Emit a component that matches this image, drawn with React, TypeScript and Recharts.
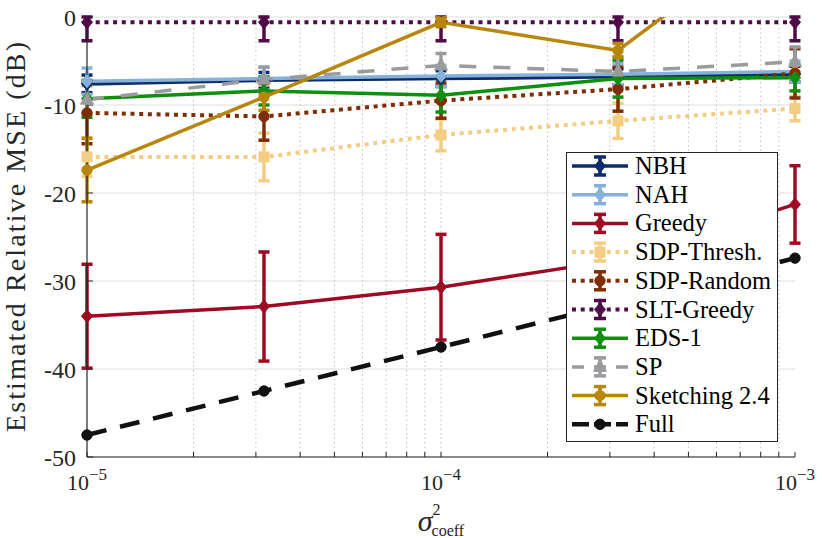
import React from 'react';
import { LineChart, Line, XAxis, YAxis, CartesianGrid, ErrorBar, ReferenceLine } from 'recharts';

const SERIF = 'Liberation Serif, DejaVu Serif, Noto Serif, serif';
const AXIS = '#262626';

// ---- data ----
const xValues = [1e-5, 3.162e-5, 1e-4, 3.162e-4, 1e-3];
const xMajorTicks = [1e-5, 1e-4, 1e-3];
const xMinorTicks = [2e-5, 3e-5, 4e-5, 5e-5, 6e-5, 7e-5, 8e-5, 9e-5, 2e-4, 3e-4, 4e-4, 5e-4, 6e-4, 7e-4, 8e-4, 9e-4];
const yTicks = [-50, -40, -30, -20, -10, 0];

const nbhValues = [-7.6, -7.2, -7.0, -6.8, -6.5];
const nbhErrors = [1.0, 0.9, 0.9, 0.9, 0.9];
const nahValues = [-7.3, -7.0, -6.7, -6.5, -6.2];
const nahErrors = [1.5, 1.3, 1.2, 1.2, 1.2];
const greedyValues = [-34.0, -32.9, -30.7, -27.6, -21.3];
const greedyErrors = [5.9, 6.2, 6.0, 5.0, 4.4];
const sdpThreshValues = [-15.9, -15.9, -13.4, -11.8, -10.4];
const sdpThreshErrors = [2.2, 2.7, 1.8, 2.0, 1.4];
const sdpRandomValues = [-10.9, -11.3, -9.5, -8.2, -6.4];
const sdpRandomErrors = [3.5, 2.7, 2.0, 2.5, 2.8];
const sltGreedyValues = [-0.6, -0.6, -0.6, -0.6, -0.6];
const sltGreedyErrors = [[2.1, 0.6], [2.1, 0.6], [2.1, 0.6], [2.1, 0.6], [2.1, 0.6]];
const eds1Values = [-9.3, -8.4, -8.9, -7.0, -6.9];
const eds1Errors = [2.1, 1.6, 1.9, 2.1, 1.5];
const spValues = [-9.4, -7.1, -5.5, -6.2, -5.1];
const spErrors = [1.6, 1.4, 1.35, 1.7, 1.7];
const sketchValues = [-17.4, -9.1, -0.6, -3.8, 11.2];
const sketchErrors = [3.6, 1.5, 0.5, 0.8, 0];
const fullValues = [-47.5, -42.5, -37.5, -32.5, -27.4];

type Shape = 'diamond' | 'circle' | 'square' | 'triangle';
interface SeriesDef {
  key: string;
  name: string;
  values: number[];
  errors: (number | number[])[] | null;
  color: string;
  dash?: string;
  width: number;
  marker: Shape;
  legendDash?: string;
}

const DOT = '4 4.7';

const seriesDefs: SeriesDef[] = [
  { key: 'nbh', name: 'NBH', values: nbhValues, errors: nbhErrors, color: '#0D2C6C', width: 3.5, marker: 'diamond' },
  { key: 'nah', name: 'NAH', values: nahValues, errors: nahErrors, color: '#86B2DA', width: 3.5, marker: 'diamond' },
  { key: 'greedy', name: 'Greedy', values: greedyValues, errors: greedyErrors, color: '#9E0A24', width: 3.5, marker: 'diamond' },
  { key: 'sdpThresh', name: 'SDP-Thresh.', values: sdpThreshValues, errors: sdpThreshErrors, color: '#F2CD83', dash: DOT, width: 4, marker: 'square' },
  { key: 'sdpRandom', name: 'SDP-Random', values: sdpRandomValues, errors: sdpRandomErrors, color: '#7F2E04', dash: DOT, width: 4, marker: 'circle' },
  { key: 'sltGreedy', name: 'SLT-Greedy', values: sltGreedyValues, errors: sltGreedyErrors, color: '#4F0B48', dash: DOT, width: 4, marker: 'diamond' },
  { key: 'eds1', name: 'EDS-1', values: eds1Values, errors: eds1Errors, color: '#0E8F0E', width: 3.5, marker: 'diamond' },
  { key: 'sp', name: 'SP', values: spValues, errors: spErrors, color: '#9A9B9F', dash: '17 17', width: 3.5, marker: 'triangle', legendDash: '12 10' },
  { key: 'sketch', name: 'Sketching 2.4', values: sketchValues, errors: sketchErrors, color: '#B8860B', width: 3.5, marker: 'circle' },
  { key: 'full', name: 'Full', values: fullValues, errors: null, color: '#111111', dash: '20 14', width: 4.5, marker: 'circle', legendDash: '17 5' },
];

const data = xValues.map((x, i) => {
  const row: Record<string, any> = { x };
  seriesDefs.forEach((s) => {
    row[s.key] = s.values[i];
    if (s.errors) row[s.key + 'Err'] = s.errors[i];
  });
  // sketching: markers only where inside the axes; full line drawn clipped
  row.sketchMarks = sketchValues[i] <= 0 ? sketchValues[i] : null;
  row.sketchLine = sketchValues[i];
  return row;
});

function Marker({ shape, cx, cy, color }: { shape: Shape; cx: number; cy: number; color: string }) {
  switch (shape) {
    case 'diamond':
      return <polygon points={`${cx},${cy - 6.5} ${cx + 5.5},${cy} ${cx},${cy + 6.5} ${cx - 5.5},${cy}`} fill={color} stroke={color} strokeWidth={1} />;
    case 'square':
      return <rect x={cx - 5} y={cy - 5} width={10} height={10} fill={color} stroke={color} strokeWidth={1} />;
    case 'triangle':
      return <polygon points={`${cx},${cy - 7.5} ${cx + 6.5},${cy + 4.5} ${cx - 6.5},${cy + 4.5}`} fill={color} stroke={color} strokeWidth={1} />;
    default:
      return <circle cx={cx} cy={cy} r={5.2} fill={color} stroke={color} strokeWidth={1} />;
  }
}

const makeDot = (s: SeriesDef) => (p: any) => {
  const k = `${s.key}-dot-${p.index}`;
  if (p.value == null || p.cx == null || p.cy == null || Number.isNaN(p.cy)) return <g key={k} />;
  return (
    <g key={k}>
      <Marker shape={s.marker} cx={p.cx} cy={p.cy} color={s.color} />
    </g>
  );
};

const XTick = (props: any) => {
  const { x, y, payload } = props;
  const v = payload.value;
  const isMajor = xMajorTicks.some((m) => Math.abs(m - v) / m < 1e-6);
  if (!isMajor) return <g />;
  const exp = Math.round(Math.log10(v));
  return (
    <text x={x} y={y + 33} textAnchor="middle" style={{ fontFamily: SERIF }} fontSize={22} fill={AXIS}>
      <tspan>10</tspan>
      <tspan dy={-10} fontSize={17}>{'\u2212' + Math.abs(exp)}</tspan>
    </text>
  );
};

const emptyTick = () => <g />;

const renderYLabel = (props: any) => {
  const vb = props.viewBox || { x: 0, y: 17, width: 87, height: 440 };
  const cx = vb.x + 25;
  const cy = vb.y + vb.height / 2;
  return (
    <text
      x={cx}
      y={cy}
      transform={`rotate(-90, ${cx}, ${cy})`}
      textAnchor="middle"
      style={{ fontFamily: SERIF }}
      fontSize={28}
      fill={AXIS}
      textLength={390}
      lengthAdjust="spacing"
    >
      Estimated Relative MSE (dB)
    </text>
  );
};

const renderXLabel = (props: any) => {
  const vb = props.viewBox || { x: 87, y: 457, width: 708, height: 81 };
  const cx = vb.x + vb.width / 2;
  const by = vb.y + 74;
  return (
    <text x={cx} y={by} textAnchor="middle" style={{ fontFamily: SERIF }} fill={AXIS}>
      <tspan fontStyle="italic" fontSize={30}>σ</tspan>
      <tspan fontSize={16} dy={-16}>2</tspan>
      <tspan fontSize={16} dx={-9} dy={21}>coeff</tspan>
    </text>
  );
};

const LegendBox = () => {
  const rowH = 28.7;
  return (
    <div
      style={{
        position: 'absolute',
        left: 566,
        top: 152,
        width: 212,
        height: 290,
        background: '#fff',
        border: `1px solid ${AXIS}`,
        boxSizing: 'border-box',
      }}
    >
      <svg width={210} height={288} style={{ display: 'block' }}>
        {seriesDefs.map((s, i) => {
          const cy = 13 + i * rowH;
          const mx = 33;
          return (
            <g key={s.key}>
              <line x1={5} y1={cy} x2={61} y2={cy} stroke={s.color} strokeWidth={s.width} strokeDasharray={s.legendDash || s.dash} />
              {s.errors && (
                <g stroke={s.color} strokeWidth={3.5}>
                  <line x1={mx} y1={cy - 9} x2={mx} y2={cy + 9} />
                  <line x1={mx - 6} y1={cy - 9} x2={mx + 6} y2={cy - 9} />
                  <line x1={mx - 6} y1={cy + 9} x2={mx + 6} y2={cy + 9} />
                </g>
              )}
              <Marker shape={s.marker} cx={mx} cy={cy} color={s.color} />
              <text x={68} y={cy + 8} style={{ fontFamily: SERIF }} fontSize={24.5} fill="#000">
                {s.name}
              </text>
            </g>
          );
        })}
      </svg>
    </div>
  );
};

const allXTicks = [...xMajorTicks, ...xMinorTicks].sort((a, b) => a - b);
const xGridValues = [...xMinorTicks, 1e-4];

export default function App() {
  return (
    <div style={{ position: 'absolute', left: 0, top: 0, width: 822, height: 538, background: '#fff', fontFamily: SERIF }}>
      <LineChart width={822} height={538} data={data} margin={{ top: 17, right: 27, bottom: 0, left: 0 }} style={{ fontFamily: SERIF }}>
        <CartesianGrid vertical={false} stroke="#dedede" strokeWidth={1.2} />
        {xGridValues.map((v) => (
          <ReferenceLine key={'g' + v} x={v} stroke="#c2c2c2" strokeDasharray="1.5 3" strokeWidth={1} />
        ))}
        <XAxis
          dataKey="x"
          type="number"
          scale="log"
          domain={[1e-5, 1e-3]}
          ticks={allXTicks}
          interval={0}
          height={81}
          tickSize={-5}
          tickMargin={5}
          tick={XTick}
          axisLine={{ stroke: AXIS, strokeWidth: 1.2 }}
          tickLine={{ stroke: AXIS }}
          label={{ content: renderXLabel }}
        />
        <XAxis
          xAxisId="top"
          orientation="top"
          type="number"
          scale="log"
          domain={[1e-5, 1e-3]}
          ticks={allXTicks}
          interval={0}
          height={0}
          tickSize={-5}
          tick={emptyTick}
          axisLine={{ stroke: AXIS, strokeWidth: 1.2 }}
          tickLine={{ stroke: AXIS }}
        />
        <YAxis
          type="number"
          domain={[-50, 0]}
          ticks={yTicks}
          interval={0}
          width={87}
          tickSize={-6}
          tickMargin={17}
          tick={{ fontSize: 24, fontFamily: SERIF, fill: AXIS, style: { fontFamily: SERIF } }}
          axisLine={{ stroke: AXIS, strokeWidth: 1.2 }}
          tickLine={{ stroke: AXIS }}
          label={{ content: renderYLabel }}
        />
        <YAxis
          yAxisId="right"
          orientation="right"
          type="number"
          domain={[-50, 0]}
          ticks={yTicks}
          interval={0}
          width={0}
          tickSize={-6}
          tick={emptyTick}
          axisLine={{ stroke: AXIS, strokeWidth: 1.2 }}
          tickLine={{ stroke: AXIS }}
        />
        <YAxis yAxisId="clip" hide type="number" domain={[-50, 0]} allowDataOverflow />
        {seriesDefs.map((s) => {
          if (s.key === 'sketch') {
            return (
              <React.Fragment key={s.key}>
                <Line
                  yAxisId="clip"
                  dataKey="sketchLine"
                  type="linear"
                  stroke={s.color}
                  strokeWidth={s.width}
                  dot={false}
                  activeDot={false}
                  isAnimationActive={false}
                />
                <Line
                  dataKey="sketchMarks"
                  type="linear"
                  stroke="none"
                  strokeWidth={0}
                  dot={makeDot(s)}
                  activeDot={false}
                  isAnimationActive={false}
                >
                  <ErrorBar dataKey="sketchErr" width={5.5} strokeWidth={3.5} stroke={s.color} direction="y" />
                </Line>
              </React.Fragment>
            );
          }
          return (
            <Line
              key={s.key}
              dataKey={s.key}
              type="linear"
              stroke={s.color}
              strokeWidth={s.width}
              strokeDasharray={s.dash}
              dot={makeDot(s)}
              activeDot={false}
              isAnimationActive={false}
            >
              {s.errors && (
                <ErrorBar dataKey={s.key + 'Err'} width={5.5} strokeWidth={3.5} stroke={s.color} direction="y" />
              )}
            </Line>
          );
        })}
      </LineChart>
      <LegendBox />
    </div>
  );
}
